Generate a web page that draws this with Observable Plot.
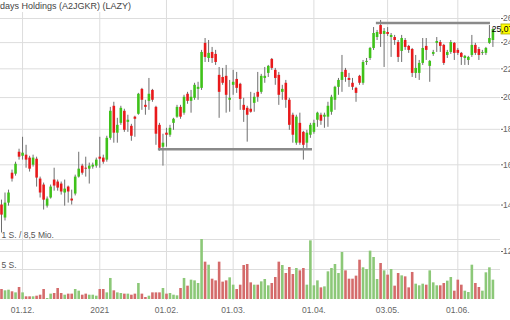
<!DOCTYPE html>
<html><head><meta charset="utf-8">
<script src="https://cdn.jsdelivr.net/npm/d3@7"></script>
<script src="https://cdn.jsdelivr.net/npm/@observablehq/plot@0.6"></script>
<style>
body{margin:0;background:#fff;}
#wrap{position:relative;width:510px;height:320px;overflow:hidden;font-family:Arial,"Liberation Sans",sans-serif;}
#wrap svg{position:absolute;left:0;top:0;}
#title{position:absolute;left:-19px;top:0;height:12px;line-height:12px;font-size:9px;color:#444;background:#fff;padding-right:4px;white-space:nowrap;z-index:5;}
</style></head><body><div id="wrap"><div id="title"></div></div>
<script>
const title = "Lazydays Holdings (A2JGKR) (LAZY)";
const tickIdx = [6, 28, 47, 66, 89, 110, 130];
const tickLabels = ["01.12.", "2021", "01.02.", "01.03.", "01.04.", "03.05.", "01.06."];
const priceTicks = [12, 14, 16, 18, 20, 22, 24, 26];

const openP = [14.00,13.41,14.09,15.56,15.51,16.68,16.46,16.52,16.36,15.98,16.30,15.26,14.96,13.95,14.33,15.21,15.11,15.01,14.57,14.86,14.28,14.52,15.36,15.93,15.82,15.77,15.88,15.93,16.41,16.36,16.25,17.47,19.43,17.77,18.36,19.11,18.42,18.18,18.74,18.92,20.55,19.49,19.75,20.48,19.36,18.24,16.96,17.77,17.65,18.36,18.74,19.36,18.99,20.22,19.75,19.95,20.55,20.62,23.94,22.77,23.23,23.08,21.53,21.38,21.46,19.82,20.83,21.24,20.90,19.49,19.30,19.24,19.62,20.35,20.35,21.31,21.67,22.70,21.89,21.53,20.35,20.97,19.82,18.86,17.19,18.36,17.82,17.19,17.65,17.82,18.55,18.86,18.74,18.74,19.05,19.82,20.69,21.17,21.89,21.31,20.97,20.62,21.46,20.97,22.47,22.77,23.54,24.41,25.40,24.66,24.82,24.41,24.41,24.01,23.31,24.17,23.70,23.46,21.67,21.67,22.40,23.70,22.18,23.08,23.94,24.01,23.78,23.00,23.23,23.94,23.39,23.16,22.77,22.62,23.00,23.78,23.46,23.16,23.16,23.94,24.17];
const highP = [14.23,14.57,14.71,15.72,16.14,16.85,17.53,17.07,16.46,16.52,16.41,15.36,15.06,14.38,14.96,15.82,15.21,15.11,15.21,14.91,14.71,15.46,16.68,16.03,16.41,16.09,16.09,16.36,17.53,16.52,17.59,19.36,19.69,18.67,19.43,19.24,18.86,18.30,18.80,20.28,20.62,19.82,21.31,20.55,19.43,18.36,17.71,18.06,18.24,18.67,19.49,19.49,20.15,20.35,20.48,20.97,21.04,23.39,24.33,24.17,23.62,23.39,22.10,22.03,22.25,21.17,21.89,21.74,20.97,19.95,19.43,20.35,20.28,21.74,21.60,22.10,22.25,22.77,22.03,21.74,20.83,21.17,19.95,18.99,18.86,18.99,17.88,17.94,18.36,18.55,19.05,18.99,18.99,19.69,20.15,20.76,21.31,23.00,22.03,21.67,21.31,20.69,21.53,22.62,22.77,23.62,25.23,24.99,25.83,25.15,25.23,24.74,24.58,24.17,24.58,24.33,23.78,23.54,23.00,22.62,24.33,24.33,22.62,23.39,24.41,24.17,23.86,23.39,24.17,24.01,23.54,23.23,23.00,22.93,24.58,23.94,23.62,23.39,23.62,25.40,25.15];
const lowP = [12.76,13.28,13.95,15.11,15.41,16.25,16.25,15.82,15.62,15.88,14.86,14.33,13.77,13.86,14.28,14.66,14.66,14.47,13.95,14.09,14.00,14.43,15.31,15.46,15.36,15.01,15.77,15.82,15.82,16.03,16.14,17.36,17.19,17.19,18.24,17.82,17.82,17.30,17.53,18.86,19.17,18.86,19.17,19.69,17.07,16.74,15.93,16.96,17.53,17.94,18.67,18.61,18.86,19.56,18.99,19.82,19.82,20.48,22.47,22.47,22.40,22.25,18.67,20.83,18.99,19.05,20.15,20.28,19.17,18.42,17.25,18.99,19.05,19.69,20.22,20.97,21.38,21.89,20.83,19.49,19.82,19.30,17.94,17.19,17.07,17.07,16.25,16.90,17.47,17.71,18.12,18.24,18.06,18.12,18.86,19.17,20.15,20.35,21.04,20.69,20.48,19.69,20.83,20.83,22.25,22.62,23.39,24.17,23.62,22.10,24.50,22.85,23.78,22.47,22.47,23.39,23.16,21.38,21.31,21.17,22.25,22.62,21.04,22.93,23.23,23.23,22.25,22.77,23.08,22.62,23.00,22.25,22.25,22.25,22.85,23.00,22.62,23.00,23.00,23.86,23.62];
const closeP = [13.54,14.09,14.57,15.26,16.03,16.41,16.63,16.25,15.77,16.36,15.31,14.57,14.23,14.28,14.86,14.91,14.81,14.62,14.76,14.62,14.19,15.36,15.77,15.56,15.77,15.93,15.98,16.25,16.30,16.14,17.47,19.11,17.77,18.24,19.30,17.94,18.55,17.59,18.61,20.22,19.82,19.36,20.22,19.82,17.71,16.90,17.19,17.65,18.06,18.61,19.36,18.74,20.02,19.75,20.02,20.83,20.69,23.23,22.85,23.16,22.77,22.47,20.35,20.97,20.15,19.95,21.04,20.62,19.88,19.17,18.86,19.05,20.02,20.02,21.46,21.46,22.18,22.03,21.31,20.15,20.55,19.82,18.24,17.65,18.74,17.19,17.07,17.77,18.24,18.36,18.99,18.49,18.86,19.43,20.02,20.69,21.17,21.74,21.38,21.17,20.69,20.28,20.97,22.47,22.55,23.54,24.74,24.82,24.66,24.91,24.66,24.58,24.17,22.85,24.33,23.62,23.39,21.67,22.03,22.40,23.54,23.39,22.55,23.23,24.09,23.70,22.40,23.23,24.01,23.16,23.16,22.85,22.93,22.85,23.78,23.16,23.00,23.23,23.54,24.33,25.07];
const volume = [1.42,1.23,1.32,1.09,0.94,1.70,0.94,0.38,0.38,0.38,0.47,0.61,1.42,0.14,0.76,0.85,1.56,0.85,0.61,0.76,0.76,1.42,1.18,0.61,0.76,0.61,0.61,0.47,1.42,1.42,0.94,2.98,1.23,0.94,0.85,0.76,0.76,0.61,0.76,2.27,0.76,0.28,0.47,0.94,0.94,0.94,1.56,0.76,0.85,0.61,0.52,1.56,2.98,1.89,2.74,2.64,2.27,8.50,5.29,4.86,2.88,2.64,5.29,2.46,2.64,3.07,2.03,1.42,2.03,4.82,4.96,2.36,2.03,2.03,2.50,2.83,1.94,2.27,3.12,5.29,4.82,3.68,4.53,3.54,4.39,4.06,4.39,2.03,8.31,1.94,2.64,1.65,1.79,3.92,4.39,4.96,3.68,6.66,4.06,2.88,2.88,3.31,5.57,4.49,4.25,6.85,5.95,2.83,5.10,4.06,3.45,4.25,1.89,3.68,3.35,3.21,1.65,3.83,2.17,1.94,2.17,2.03,4.06,2.36,1.94,1.94,2.27,2.60,3.12,1.18,2.74,2.03,1.18,0.99,4.86,2.27,1.70,1.18,3.78,4.49,2.74];
const volTicks = [4.25, 8.5];
const volLabels = ["5 S.", "1 S. / 8,5 Mio."];
const levelStart = [44.7, 106.8];
const levelEnd = [88.6, 139.3];
const levelPrice = [16.85, 25.62];

const candles = openP.map((o, i) => ({i, o, h: highP[i], l: lowP[i], c: closeP[i], v: volume[i], up: closeP[i] >= o}));
const levels = levelPrice.map((p, k) => ({x1: levelStart[k], x2: levelEnd[k], p}));
const lastClose = closeP[closeP.length - 1];

const font = "Arial, 'Liberation Sans', sans-serif";
const common = {width: 510, height: 320, marginLeft: 0, marginRight: 10, marginTop: 0, marginBottom: 20,
  style: {background: "transparent", fontFamily: font, fontSize: "8.5px"}};

const price = Plot.plot({
  ...common,
  x: {type: "linear", domain: [-0.285, 142.16]},
  y: {type: "log", domain: [12, 26], range: [251, 18]},
  color: {type: "identity"},
  marks: [
    Plot.gridX(tickIdx, {stroke: "#dddddd", strokeOpacity: 1}),
    Plot.gridY(priceTicks, {stroke: "#dddddd", strokeOpacity: 1}),
    Plot.axisY(priceTicks, {anchor: "right", tickSize: 2, tickPadding: 0.5, color: "#666", fontSize: 8.5, tickFormat: d => String(d)}),
    Plot.axisX(tickIdx, {anchor: "bottom", tickSize: 0, tickPadding: 6, color: "#666", fontSize: 8.5, tickFormat: d => tickLabels[tickIdx.indexOf(d)]}),
    Plot.ruleX(candles, {x: "i", y1: "l", y2: "h", stroke: "#6e6e6e", strokeWidth: 1}),
    Plot.ruleX(candles, {x: "i", y1: "o", y2: "c", stroke: d => d.up ? "#3fc21a" : "#e8191b", strokeWidth: 2.6}),
    Plot.ruleY(levels, {x1: "x1", x2: "x2", y: "p", stroke: "#8a8a8a", strokeWidth: 2.5})
  ]
});

const vol = Plot.plot({
  ...common,
  x: {type: "linear", domain: [-0.285, 142.16], axis: null},
  y: {domain: [0, 8.5], range: [299, 239], axis: null},
  color: {type: "identity"},
  marks: [
    Plot.gridY(volTicks, {stroke: "#dddddd", strokeOpacity: 1}),
    Plot.ruleX(candles, {x: "i", y1: 0, y2: "v", stroke: d => d.up ? "#8cc878" : "#d46b6b", strokeWidth: 2.6}),
    Plot.text(volLabels, {text: d => d, y: (d, k) => volTicks[k], frameAnchor: "left", textAnchor: "start", dx: 1, dy: -4, fill: "#555", fontSize: 8.5})
  ]
});

const wrap = document.getElementById("wrap");
wrap.appendChild(price);
wrap.appendChild(vol);
document.getElementById("title").textContent = title;

// last price marker on the right axis
const ys = price.scale("y");
const yPos = ys && ys.apply ? ys.apply(lastClose) : d3.scaleLog().domain([12, 26]).range([251, 18])(lastClose);
const g = d3.select(vol).append("g");
g.append("rect").attr("x", 501).attr("y", yPos - 5).attr("width", 14).attr("height", 10)
  .attr("fill", "#ffff00").attr("stroke", "#a8a800").attr("stroke-width", 0.8);
g.append("text").attr("x", 502.5).attr("y", yPos + 3).attr("font-size", 8.5).attr("font-family", font)
  .attr("fill", "#000").text(d3.format(".2f")(lastClose).replace(".", ","));
</script>
</body></html>
